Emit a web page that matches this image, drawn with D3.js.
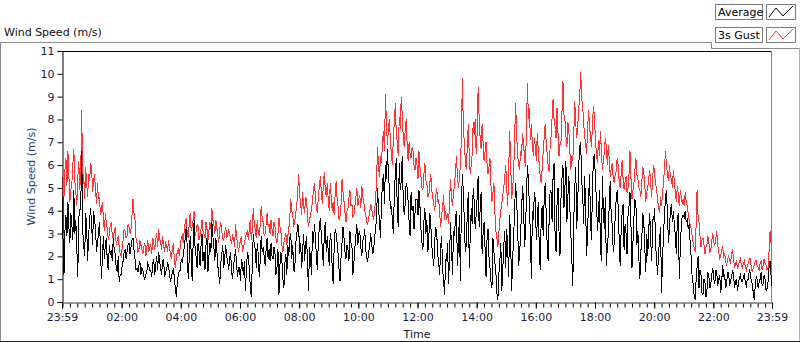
<!DOCTYPE html>
<html>
<head>
<meta charset="utf-8">
<script src="https://cdn.jsdelivr.net/npm/d3@7"></script>
<style>
body { margin: 0; background: #fff; }
svg { display: block; }
text { font-family: "DejaVu Sans", sans-serif; }
</style>
</head>
<body>
<svg id="svg1" width="800" height="342"></svg>
<script>
// one sample every 2 minutes, 23:59 -> 23:59 next day (one row per hour)
var gust = [
  5.5, 3.0, 4.6, 5.8, 6.3, 5.1, 6.6, 5.5, 4.4, 4.9, 5.2, 6.0, 6.7, 5.3, 4.8, 4.2, 5.4, 6.2, 4.9, 5.7, 8.4, 5.0, 5.6, 4.5, 5.9, 5.2, 4.6, 5.6, 5.3, 6.1,
  5.9, 4.8, 5.3, 5.6, 4.9, 4.3, 5.2, 4.5, 4.6, 3.8, 4.0, 4.4, 3.6, 3.1, 3.9, 3.4, 3.2, 2.7, 3.0, 3.4, 3.5, 2.9, 2.8, 3.1, 3.3, 2.5, 2.7, 2.9, 2.4, 2.1,
  2.0, 2.4, 2.7, 3.2, 3.1, 2.8, 2.9, 3.4, 3.3, 3.0, 3.2, 3.8, 4.5, 3.9, 3.6, 2.8, 2.6, 2.2, 2.3, 2.7, 2.5, 2.3, 2.1, 2.4, 2.6, 2.0, 2.4, 2.7, 2.2, 2.4,
  2.5, 2.1, 2.8, 2.6, 2.3, 2.7, 3.0, 2.4, 3.2, 2.8, 2.6, 2.3, 2.9, 2.5, 2.2, 2.6, 2.5, 2.2, 2.7, 2.4, 2.1, 1.9, 2.4, 2.6, 1.8, 1.5, 2.0, 2.2, 2.3, 2.0,
  2.5, 2.8, 2.9, 2.6, 3.2, 3.5, 3.7, 3.0, 2.8, 3.4, 3.9, 3.1, 3.3, 3.6, 4.0, 2.9, 3.1, 3.4, 3.3, 2.7, 2.9, 3.2, 3.6, 3.1, 3.0, 2.8, 3.5, 3.2, 2.7, 3.1,
  3.5, 3.2, 4.1, 3.6, 3.4, 3.0, 3.6, 3.3, 2.9, 2.6, 3.2, 3.5, 3.1, 2.8, 2.7, 3.0, 3.3, 2.8, 2.9, 3.2, 3.0, 2.7, 2.6, 2.9, 2.8, 2.4, 3.4, 2.9, 2.5, 2.2,
  2.5, 2.7, 2.9, 2.2, 2.4, 2.6, 2.8, 3.0, 3.1, 2.7, 3.3, 3.6, 2.7, 3.2, 4.1, 3.4, 3.2, 2.8, 3.6, 3.0, 2.9, 3.4, 4.2, 3.7, 3.5, 2.9, 3.0, 3.4, 3.9, 3.3,
  3.4, 3.0, 3.6, 3.2, 2.9, 3.5, 3.3, 2.8, 2.6, 3.0, 3.7, 3.3, 3.1, 2.5, 2.2, 2.6, 2.8, 3.0, 2.5, 2.9, 3.2, 3.7, 4.5, 4.0, 3.8, 3.3, 3.5, 3.9, 4.2, 4.8,
  5.6, 4.7, 4.3, 3.8, 4.8, 4.2, 3.9, 4.6, 4.5, 3.7, 3.3, 3.6, 3.8, 4.1, 4.4, 4.9, 5.2, 4.6, 4.1, 3.9, 4.7, 5.0, 5.5, 4.8, 4.3, 5.1, 5.7, 4.9, 4.6, 5.2,
  4.5, 4.0, 5.2, 4.6, 4.0, 4.4, 3.8, 4.7, 5.3, 4.5, 4.2, 3.6, 3.8, 4.3, 5.4, 4.8, 4.4, 3.9, 3.5, 4.0, 4.1, 4.6, 4.9, 4.2, 4.3, 3.7, 3.8, 4.2, 4.6, 5.0,
  4.2, 4.5, 4.7, 4.1, 5.1, 4.6, 4.4, 4.0, 3.8, 3.5, 3.4, 3.7, 3.9, 4.3, 4.1, 3.8, 3.6, 4.0, 4.5, 5.3, 6.8, 5.9, 5.5, 6.4, 6.1, 7.0, 7.5, 6.6, 9.1, 7.8,
  6.9, 7.6, 8.0, 7.1, 6.5, 6.0, 7.2, 7.9, 8.7, 7.4, 7.0, 6.4, 8.1, 7.6, 9.0, 8.2, 7.3, 6.8, 7.5, 8.0, 6.9, 6.2, 7.0, 6.5, 6.3, 6.8, 6.6, 6.0, 5.8, 6.3,
  6.0, 5.4, 6.6, 5.9, 5.5, 5.0, 4.9, 5.6, 6.1, 5.3, 5.2, 4.6, 4.7, 5.2, 5.6, 4.9, 4.6, 4.3, 4.0, 4.6, 5.0, 4.4, 4.5, 3.9, 3.3, 3.8, 4.2, 4.7, 3.6, 4.0,
  3.6, 3.9, 3.4, 4.4, 5.4, 4.6, 4.2, 4.8, 5.1, 5.7, 6.4, 5.5, 5.0, 5.4, 6.0, 7.2, 9.8, 7.6, 7.0, 6.2, 5.8, 6.8, 7.8, 6.4, 5.6, 6.0, 6.5, 7.9, 7.3, 8.0,
  6.5, 7.4, 9.4, 8.1, 7.2, 6.7, 7.8, 7.0, 6.2, 6.6, 7.0, 6.1, 5.6, 5.9, 6.3, 5.1, 4.4, 4.8, 5.2, 3.9, 3.1, 2.8, 2.4, 3.0, 3.6, 4.0, 4.3, 4.7, 5.0, 5.5,
  6.0, 5.0, 4.2, 5.8, 7.5, 6.1, 4.5, 5.0, 5.6, 7.2, 8.7, 7.4, 6.5, 6.0, 5.8, 6.6, 6.4, 7.4, 7.0, 6.3, 5.9, 7.6, 9.6, 8.0, 8.5, 7.1, 7.8, 6.9, 6.4, 7.2,
  6.8, 6.2, 7.4, 6.6, 6.0, 5.5, 5.2, 5.9, 6.6, 7.2, 7.8, 7.0, 6.5, 6.0, 5.7, 6.8, 7.3, 8.1, 8.9, 8.0, 7.7, 7.2, 8.5, 7.4, 6.4, 6.9, 7.0, 8.3, 9.7, 8.2,
  8.0, 7.3, 6.8, 7.9, 7.5, 6.6, 5.8, 6.4, 6.2, 7.4, 8.8, 7.8, 7.2, 7.7, 8.5, 9.0, 10.1, 8.9, 8.6, 7.8, 7.3, 6.9, 6.5, 7.6, 8.4, 7.7, 7.2, 6.8, 7.9, 8.6,
  8.1, 7.0, 6.5, 6.1, 7.1, 6.4, 7.5, 6.6, 5.8, 6.2, 6.6, 7.2, 6.8, 6.0, 6.9, 6.2, 5.5, 5.9, 6.1, 5.4, 5.2, 5.6, 5.7, 6.3, 6.0, 5.3, 5.0, 5.6, 6.2, 5.4,
  4.9, 5.3, 5.5, 4.8, 5.0, 5.6, 6.6, 5.4, 4.5, 4.9, 5.2, 5.8, 6.3, 5.6, 5.4, 5.0, 4.9, 4.6, 5.3, 5.9, 5.7, 5.1, 4.4, 4.8, 5.0, 5.4, 5.8, 5.2, 4.6, 5.5,
  6.0, 5.6, 5.2, 4.9, 4.5, 4.1, 3.9, 4.6, 4.2, 4.8, 5.2, 5.9, 6.6, 6.0, 5.6, 5.3, 6.0, 5.5, 5.4, 5.0, 5.8, 5.2, 4.8, 4.4, 5.1, 4.7, 4.2, 4.9, 4.6, 4.3,
  4.5, 4.2, 4.8, 4.4, 4.2, 3.9, 3.6, 3.4, 3.2, 2.9, 2.6, 2.4, 2.2, 3.3, 4.9, 3.8, 3.5, 2.9, 2.4, 2.7, 2.8, 2.5, 2.1, 2.4, 2.5, 2.9, 2.6, 2.2, 2.3, 2.7,
  3.0, 2.6, 2.5, 2.8, 3.1, 2.5, 2.2, 1.9, 2.0, 2.3, 2.4, 2.0, 2.1, 1.8, 1.6, 1.9, 2.0, 1.8, 1.7, 2.1, 2.3, 1.9, 1.5, 1.7, 1.8, 1.5, 1.6, 1.8, 1.9, 1.6,
  1.5, 1.7, 1.8, 1.5, 1.4, 1.6, 1.7, 1.9, 1.9, 1.5, 1.3, 1.5, 1.6, 1.8, 1.8, 1.6, 1.5, 1.4, 1.7, 1.8, 1.4, 1.6, 1.9, 1.7, 1.6, 1.4, 1.5, 2.2, 3.1, 2.6, 2.0
];
var average = [
  4.6, 2.8, 1.2, 3.1, 3.8, 2.9, 4.4, 3.3, 2.6, 3.9, 3.4, 2.7, 4.9, 3.0, 3.6, 2.4, 1.1, 3.7, 4.0, 4.2, 6.6, 3.1, 2.5, 2.0, 3.9, 3.3, 1.8, 2.9, 3.6, 4.1,
  3.4, 2.5, 4.0, 3.6, 3.2, 2.2, 2.6, 3.0, 3.5, 2.4, 1.0, 2.0, 2.9, 1.9, 2.6, 2.8, 1.7, 1.4, 2.5, 2.1, 2.2, 1.8, 2.8, 2.3, 2.1, 1.5, 1.3, 2.0, 0.9, 1.2,
  1.2, 1.6, 1.8, 2.2, 2.3, 1.9, 2.2, 2.5, 2.6, 2.1, 2.4, 2.7, 2.8, 2.3, 1.9, 1.4, 1.5, 1.3, 1.6, 1.8, 1.2, 1.5, 1.4, 1.1, 1.0, 1.2, 1.3, 1.7, 1.6, 1.4,
  1.4, 1.1, 1.7, 1.9, 1.2, 1.6, 2.0, 1.4, 2.2, 1.8, 1.5, 1.2, 1.8, 1.9, 1.1, 1.3, 1.4, 1.7, 1.6, 1.2, 0.9, 1.1, 1.3, 1.5, 1.0, 0.6, 0.2, 0.9, 1.2, 1.4,
  1.4, 1.9, 1.7, 2.1, 2.4, 2.8, 3.3, 2.4, 1.0, 1.9, 2.9, 2.2, 0.9, 2.6, 3.6, 2.3, 2.0, 1.5, 2.6, 2.2, 1.6, 2.5, 3.0, 1.8, 2.2, 1.4, 2.5, 2.8, 1.3, 2.0,
  2.6, 2.2, 3.5, 2.9, 2.4, 1.8, 2.8, 2.3, 1.6, 1.2, 0.8, 1.7, 2.1, 2.5, 1.5, 1.9, 2.5, 2.0, 1.8, 1.4, 1.9, 2.2, 1.3, 1.0, 1.6, 1.9, 2.3, 1.7, 1.1, 1.5,
  1.5, 0.9, 1.9, 1.6, 1.2, 1.8, 0.5, 1.4, 2.2, 2.0, 1.4, 0.6, 0.2, 1.7, 3.0, 2.5, 2.3, 1.5, 2.6, 2.1, 1.1, 1.8, 2.9, 2.2, 2.4, 2.0, 1.6, 2.3, 2.8, 1.9,
  2.3, 1.8, 2.6, 2.0, 1.9, 2.4, 2.1, 1.2, 1.5, 2.3, 0.3, 1.6, 2.2, 1.8, 1.0, 0.6, 1.7, 2.1, 1.2, 2.5, 2.0, 2.8, 3.0, 1.9, 2.5, 1.4, 1.3, 2.6, 2.9, 3.4,
  3.3, 2.1, 2.6, 1.5, 2.2, 3.0, 1.8, 2.5, 2.9, 1.7, 0.5, 2.4, 1.9, 1.2, 3.1, 2.6, 3.4, 2.8, 2.0, 1.4, 2.7, 3.3, 3.7, 2.9, 2.4, 1.6, 3.0, 3.5, 2.2, 2.9,
  2.2, 1.6, 3.0, 2.7, 1.5, 0.8, 2.4, 3.2, 3.0, 2.6, 2.1, 1.4, 0.9, 2.0, 2.6, 3.3, 2.8, 2.2, 1.9, 2.5, 2.3, 1.8, 3.1, 2.6, 2.5, 1.2, 1.7, 2.4, 2.9, 3.4,
  2.5, 3.0, 3.1, 2.4, 2.0, 2.7, 2.8, 3.2, 2.3, 1.9, 1.8, 2.2, 2.4, 3.0, 2.6, 2.1, 2.2, 2.9, 3.1, 3.8, 5.0, 4.1, 3.5, 2.8, 4.4, 5.2, 5.6, 4.3, 6.0, 5.4,
  6.7, 5.6, 5.0, 4.1, 4.2, 3.6, 3.0, 4.7, 5.6, 6.3, 4.0, 3.3, 6.1, 4.9, 5.3, 6.4, 4.6, 3.8, 4.3, 5.2, 5.0, 4.4, 3.5, 2.9, 4.8, 4.0, 4.2, 3.2, 3.9, 4.5,
  4.5, 3.8, 4.9, 4.2, 3.2, 2.6, 2.3, 3.5, 4.1, 3.0, 3.6, 2.2, 2.8, 3.9, 3.4, 2.5, 2.0, 1.6, 2.7, 3.3, 3.0, 2.1, 1.7, 1.2, 2.4, 2.9, 1.4, 0.9, 0.3, 1.9,
  1.8, 2.6, 0.8, 2.0, 3.5, 2.4, 1.2, 3.1, 2.9, 3.7, 4.0, 1.6, 2.5, 3.8, 0.9, 4.2, 5.6, 4.8, 3.5, 2.2, 2.5, 3.9, 4.8, 1.5, 2.9, 4.1, 3.4, 5.0, 4.4, 3.2,
  3.8, 4.6, 5.5, 3.3, 4.0, 4.8, 2.1, 3.0, 3.5, 2.4, 1.1, 2.7, 3.2, 2.0, 1.5, 0.9, 0.6, 2.8, 2.2, 1.7, 1.3, 0.4, 0.1, 1.2, 1.8, 2.6, 0.5, 1.4, 2.5, 3.1,
  1.5, 3.2, 2.3, 1.1, 3.8, 2.6, 0.5, 1.9, 2.8, 4.1, 5.2, 4.4, 3.5, 1.6, 2.0, 3.0, 3.9, 5.1, 4.5, 2.4, 3.0, 4.7, 6.0, 5.3, 4.2, 2.9, 1.0, 4.0, 3.6, 4.8,
  4.5, 2.7, 3.5, 4.4, 2.3, 1.4, 3.8, 4.2, 2.9, 4.6, 5.2, 3.9, 2.5, 1.8, 3.6, 4.9, 4.8, 3.5, 5.5, 6.1, 3.0, 2.2, 4.3, 5.0, 3.1, 2.0, 4.5, 5.4, 6.0, 4.1,
  5.0, 6.2, 3.5, 4.6, 5.5, 4.1, 3.0, 1.9, 0.7, 3.6, 5.0, 5.9, 3.2, 4.4, 6.0, 6.8, 7.0, 5.3, 4.8, 3.4, 5.5, 4.2, 2.0, 3.1, 4.5, 5.6, 3.5, 2.7, 5.2, 6.3,
  6.5, 5.2, 4.5, 3.1, 3.8, 4.9, 2.5, 1.8, 5.5, 4.0, 3.2, 4.6, 1.6, 2.4, 3.0, 4.4, 5.3, 3.7, 3.4, 2.2, 2.6, 3.8, 4.5, 4.9, 4.2, 2.8, 1.6, 3.1, 3.9, 4.3,
  2.3, 3.4, 3.0, 2.1, 3.8, 4.2, 4.8, 3.3, 1.5, 2.6, 3.7, 4.5, 4.3, 2.5, 3.1, 1.9, 1.0, 2.2, 2.8, 3.9, 3.5, 2.4, 1.3, 3.0, 2.0, 3.2, 3.9, 2.7, 1.8, 3.6,
  3.6, 4.1, 2.5, 1.8, 1.2, 2.2, 2.7, 3.3, 0.4, 1.9, 3.0, 3.8, 4.6, 4.9, 3.8, 2.6, 3.2, 4.0, 4.3, 3.5, 4.0, 3.4, 2.9, 2.1, 3.6, 3.9, 1.0, 2.4, 3.3, 3.8,
  3.8, 3.7, 4.0, 3.5, 3.6, 3.2, 3.4, 2.6, 2.0, 1.1, 0.8, 0.3, 0.1, 0.9, 1.5, 2.0, 0.6, 1.4, 1.2, 0.4, 0.3, 1.0, 0.9, 0.2, 0.5, 1.3, 1.1, 0.6, 0.8, 1.2,
  1.5, 1.0, 0.8, 1.4, 1.3, 0.7, 1.0, 1.2, 0.4, 0.9, 1.6, 1.1, 1.2, 0.6, 0.8, 1.3, 1.3, 0.7, 0.9, 1.1, 1.4, 1.2, 0.6, 0.9, 1.0, 0.5, 0.8, 1.1, 1.2, 0.9,
  0.9, 1.1, 1.2, 0.8, 0.7, 1.0, 1.0, 1.4, 1.3, 0.9, 0.8, 0.4, 0.1, 0.7, 1.1, 1.0, 0.6, 0.9, 1.0, 1.3, 0.7, 0.8, 1.2, 1.0, 0.5, 0.6, 0.9, 1.5, 1.8, 1.2, 0.7
];
var xTickLabels = ["23:59", "02:00", "04:00", "06:00", "08:00", "10:00", "12:00",
                   "14:00", "16:00", "18:00", "20:00", "22:00", "23:59"];
var yTickValues = [0, 1, 2, 3, 4, 5, 6, 7, 8, 9, 10, 11];
var seriesNames = ["Average", "3s Gust"];
var seriesColors = ["#000000", "#ff3333"];

var svg = d3.select('#svg1');

var plotLeft = 62, plotRight = 772, plotTop = 51, plotBottom = 302;

var startTime = new Date(2000, 0, 1, 23, 59);
var endTime = new Date(2000, 0, 2, 23, 59);
var stepMinutes = 2;
var times = gust.map(function(d, i){ return d3.timeMinute.offset(startTime, i * stepMinutes); });

var scaleX = d3.scaleTime().domain([startTime, endTime]).range([plotLeft, plotRight]);
var scaleY = d3.scaleLinear().domain([0, 11]).range([plotBottom, plotTop]);

// outer panel
var frame = svg.append('g');
frame.append('path').attr('d', 'M0.5,341 V42.5 H711.5 V48.5 H800')
    .attr('fill', 'none').attr('stroke', '#8a8a8a');
frame.append('line').attr('x1', 799.5).attr('x2', 799.5).attr('y1', 48).attr('y2', 341)
    .attr('stroke', '#b0b0b0');
frame.append('line').attr('x1', 0).attr('x2', 800).attr('y1', 341.5).attr('y2', 341.5)
    .attr('stroke', '#222');

svg.append('text').attr('x', 4).attr('y', 36)
    .style('font-size', '11px').attr('fill', '#111')
    .text('Wind Speed (m/s)');

// plot area
svg.append('defs').append('clipPath').attr('id', 'clip')
    .append('rect').attr('x', plotLeft).attr('y', plotTop)
    .attr('width', plotRight - plotLeft).attr('height', plotBottom - plotTop);

svg.append('line').attr('x1', plotLeft).attr('x2', plotRight)
    .attr('y1', plotTop + 0.5).attr('y2', plotTop + 0.5).attr('stroke', '#000');
svg.append('line').attr('x1', plotRight - 0.5).attr('x2', plotRight - 0.5)
    .attr('y1', plotTop).attr('y2', plotBottom).attr('stroke', '#808080');

var line = d3.line()
    .x(function(d, i){ return scaleX(times[i]); })
    .y(function(d){ return scaleY(d); });

// LabVIEW draws the traces without antialiasing
var lines = svg.append('g').attr('clip-path', 'url(#clip)');
lines.append('path').datum(gust)
    .attr('d', line).attr('fill', 'none')
    .attr('stroke', seriesColors[1]).attr('stroke-width', 1)
    .attr('shape-rendering', 'crispEdges');
lines.append('path').datum(average)
    .attr('d', line).attr('fill', 'none')
    .attr('stroke', seriesColors[0]).attr('stroke-width', 1)
    .attr('shape-rendering', 'crispEdges');

// y axis
var yAxis = svg.append('g')
    .attr('class', 'y-axis')
    .attr('transform', 'translate(' + (plotLeft + 0.5) + ',0)')
    .call(d3.axisLeft(scaleY).tickValues(yTickValues).tickSize(5).tickPadding(3));
yAxis.select('.domain').attr('stroke', '#000');
yAxis.selectAll('.tick line').attr('stroke', '#000');
yAxis.selectAll('text').style('font-size', '11px').attr('fill', '#1b1b4b')
    .style('font-family', '"DejaVu Sans", sans-serif');

svg.append('text')
    .attr('transform', 'translate(35,' + ((plotTop + plotBottom) / 2) + ') rotate(-90)')
    .attr('text-anchor', 'middle')
    .style('font-size', '11px').attr('fill', '#23407a')
    .text('Wind Speed (m/s)');

// x axis
var majorTicks = [startTime]
    .concat(d3.timeHour.every(2).range(new Date(2000, 0, 2, 2), new Date(2000, 0, 2, 23)))
    .concat([endTime]);
var minorTicks = d3.timeMinute.every(15).range(startTime, endTime);

var xMinor = svg.append('g')
    .attr('transform', 'translate(0,' + (plotBottom + 0.5) + ')')
    .call(d3.axisBottom(scaleX).tickValues(minorTicks).tickSize(4).tickFormat(''));
xMinor.select('.domain').remove();
xMinor.selectAll('.tick line').attr('stroke', '#000').attr('transform', 'translate(0,1)');

var xAxis = svg.append('g')
    .attr('class', 'x-axis')
    .attr('transform', 'translate(0,' + (plotBottom + 0.5) + ')')
    .call(d3.axisBottom(scaleX).tickValues(majorTicks).tickSize(6).tickPadding(5)
        .tickFormat(function(d, i){ return xTickLabels[i]; }));
xAxis.select('.domain').attr('stroke', '#333');
xAxis.selectAll('.tick line').attr('stroke', '#000');
xAxis.selectAll('text').style('font-size', '11px').attr('fill', '#1b1b4b')
    .style('font-family', '"DejaVu Sans", sans-serif');

svg.append('text').attr('x', (plotLeft + plotRight) / 2).attr('y', 338)
    .attr('text-anchor', 'middle')
    .style('font-size', '11px').attr('fill', '#111')
    .text('Time');

// legend
var legend = svg.selectAll('.legend').data(seriesNames).enter()
    .append('g').attr('class', 'legend')
    .attr('transform', function(d, i){ return 'translate(0,' + (i * 23) + ')'; });
legend.append('rect').attr('x', 715.5).attr('y', 4.5).attr('width', 47).attr('height', 15)
    .attr('fill', '#fff').attr('stroke', '#7a7a7a');
legend.append('text').attr('x', 718).attr('y', 16)
    .style('font-size', '11px').attr('fill', '#000')
    .text(function(d){ return d; });
legend.append('rect').attr('x', 766.5).attr('y', 4.5).attr('width', 29).attr('height', 15)
    .attr('fill', '#fff').attr('stroke', '#7a7a7a');
legend.append('path').attr('d', 'M769,17 L776,8 L783,16 L793,6')
    .attr('fill', 'none')
    .attr('stroke', function(d, i){ return seriesColors[i]; });
</script>
</body>
</html>
